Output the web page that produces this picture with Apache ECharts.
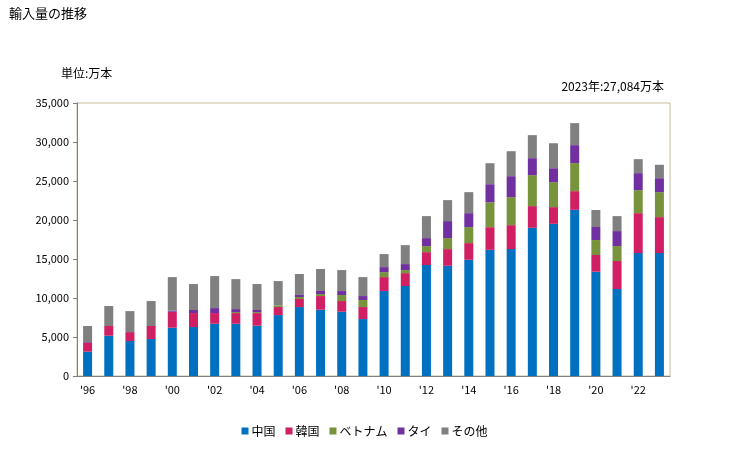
<!DOCTYPE html>
<html><head><meta charset="utf-8">
<script src="https://cdn.jsdelivr.net/npm/echarts@6/dist/echarts.min.js"></script>
<style>html,body{margin:0;padding:0;background:#fff}#c{width:729px;height:450px}</style>
</head><body><div id="c"></div>
<script>
const years = ["1996","1997","1998","1999","2000","2001","2002","2003","2004","2005","2006","2007","2008","2009","2010","2011","2012","2013","2014","2015","2016","2017","2018","2019","2020","2021","2022","2023"];
const china   = [3120,5170,4480,4740,6190,6280,6700,6700,6450,7810,8840,8500,8240,7300,10890,11530,14220,14130,14900,16180,16270,19000,19510,21310,13370,11150,15760,15760];
const korea   = [1150,1240,1150,1670,2050,1790,1370,1370,1620,1030,1030,1750,1370,1540,1790,1660,1660,2140,2140,2900,3070,2780,2140,2390,2140,3590,5120,4610];
const vietnam = [0,0,0,0,0,0,0,130,130,210,260,260,770,900,640,390,770,1410,2050,3200,3590,3970,3200,3590,1920,1920,2950,3200];
const thai    = [90,0,0,0,130,390,640,380,260,0,260,390,510,510,640,770,1030,2180,1790,2310,2690,2180,1790,2310,1670,1920,2180,1790];
const others  = [2050,2560,2690,3200,4310,3330,4100,3840,3330,3120,2690,2820,2690,2430,1670,2430,2820,2690,2690,2690,3200,2950,3200,2820,2180,1920,1790,1720];
const seriesNames = ["中国","韓国","ベトナム","タイ","その他"];
const colors = ["#0070c0","#d01f62","#77933c","#7030a0","#808080"];
const yTicks = {min:0,max:35000,interval:5000};

const font = "'Noto Sans CJK JP', sans-serif";
const chart = echarts.init(document.getElementById('c'));
const datas = [china,korea,vietnam,thai,others];
chart.setOption({
  animation:false,
  textStyle:{fontFamily:font},
  title:[
    {text:"輸入量の推移",left:4,top:2,textStyle:{fontSize:13,fontWeight:'normal',color:'#000',fontFamily:font}},
    {text:"単位:万本",left:56,top:62,textStyle:{fontSize:12,fontWeight:'normal',color:'#000',fontFamily:font}},
    {text:"2023年:27,084万本",right:60,top:75,textStyle:{fontSize:12,fontWeight:'normal',color:'#000',fontFamily:font}}
  ],
  legend:{bottom:8,left:'center',itemWidth:7,itemHeight:7,itemGap:10,icon:'rect',
    textStyle:{fontSize:12,color:'#000',fontFamily:font,padding:[0,0,0,-2]},
    data:seriesNames},
  grid:{left:77,right:59,top:103,bottom:74,show:true,borderColor:'#c8bc9a',borderWidth:1,containLabel:false},
  xAxis:{type:'category',data:years,
    axisLine:{lineStyle:{color:'#808080',width:1}},
    axisTick:{show:false},
    axisLabel:{interval:1,color:'#000',fontSize:11,margin:8,fontFamily:font,formatter:v=>"'"+v.slice(2)}},
  yAxis:{type:'value',min:yTicks.min,max:yTicks.max,interval:yTicks.interval,
    axisLine:{show:true,lineStyle:{color:'#808080'}},
    axisTick:{show:true,length:4,lineStyle:{color:'#808080'}},
    splitLine:{show:false},
    axisLabel:{color:'#000',fontSize:11,margin:8,fontFamily:font,formatter:v=>v.toLocaleString('en-US')}},
  series:seriesNames.map((n,i)=>({name:n,type:'bar',stack:'a',data:datas[i],barWidth:9,
    itemStyle:{color:colors[i]}}))
});
</script></body></html>
